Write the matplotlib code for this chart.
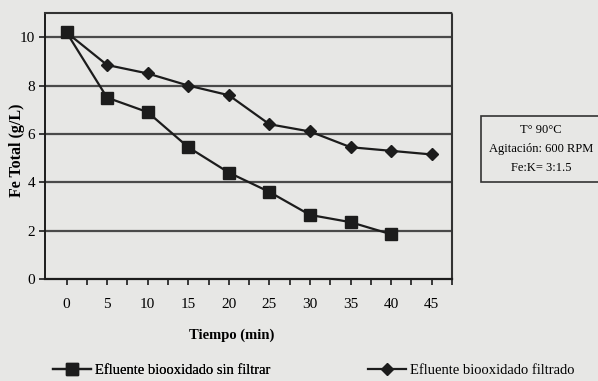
import numpy as np
import matplotlib.pyplot as plt
from matplotlib.lines import Line2D

tiempo = [0, 5, 10, 15, 20, 25, 30, 35, 40, 45]
sin_filtrar = [10.2, 7.5, 6.9, 5.45, 4.4, 3.6, 2.65, 2.35, 1.85]
filtrado = [10.2, 8.85, 8.5, 8.0, 7.6, 6.4, 6.1, 5.45, 5.3, 5.15]
yticks = [0, 2, 4, 6, 8, 10]

bg = "#e7e7e5"
ink = "#1c1c1c"
plt.rcParams['font.family'] = ['Liberation Serif', 'DejaVu Serif']

fig = plt.figure(figsize=(5.98, 3.81), dpi=100, facecolor=bg)
ax = fig.add_axes([45/598, 1 - 279/381, 407/598, 266/381], facecolor=bg)

x = np.arange(len(tiempo))
ax.plot(x[:len(sin_filtrar)], sin_filtrar, color=ink, lw=1.6, marker='s',
        ms=8.5, mfc=ink, mec=ink, zorder=3)
ax.plot(x, filtrado, color=ink, lw=1.6, marker='D', ms=6.5,
        mfc=ink, mec=ink, zorder=3)

ax.set_xlim(-0.53, 9.5)
ax.set_ylim(0, 11)
ax.set_yticks(yticks)
for yv in yticks[1:]:
    ax.axhline(yv, color="#4a4a4a", lw=1.6, zorder=1)

ax.set_xticks(x)
ax.set_xticklabels([str(t) for t in tiempo], fontsize=11)
ax.set_xticks(x + 0.5, minor=True)
ax.tick_params(axis='x', which='both', direction='out', length=4, width=1.2,
               color=ink, pad=10)
ax.tick_params(axis='y', direction='out', length=4, width=1.2, color=ink,
               labelsize=11, pad=3)

ax.spines['left'].set_linewidth(1.4)
ax.spines['bottom'].set_linewidth(1.6)
ax.spines['left'].set_color(ink)
ax.spines['bottom'].set_color(ink)
for s in ['top', 'right']:
    ax.spines[s].set_linestyle((0, (1, 1)))
    ax.spines[s].set_linewidth(1.5)
    ax.spines[s].set_color("#333333")

fig.text(17/598, 1 - 150/381, "Fe Total (g/L)", fontsize=11.5,
         fontweight='bold', rotation=90, ha='center', va='center')
fig.text(232/598, 1 - 335/381, "Tiempo (min)", fontsize=10.5,
         fontweight='bold', ha='center', va='center')

fig.text(541/598, 1 - 149/381, "T° 90°C\nAgitación: 600 RPM\nFe:K= 3:1.5",
         fontsize=9, ha='center', va='center', linespacing=1.8,
         bbox=dict(boxstyle='square,pad=0.6', fc=bg, ec="#333333", lw=1.2))

h1 = Line2D([], [], color=ink, lw=1.6, marker='s', ms=8, mfc=ink)
h2 = Line2D([], [], color=ink, lw=1.6, marker='D', ms=6, mfc=ink)
leg1 = fig.legend([h1], ["Efluente biooxidado sin filtrar"], loc='center left',
                  bbox_to_anchor=(40/598, 1 - 370/381), frameon=False,
                  fontsize=10.5, handlelength=2.6, handletextpad=0.3)
fig.add_artist(leg1)
fig.legend([h2], ["Efluente biooxidado filtrado"], loc='center left',
           bbox_to_anchor=(355/598, 1 - 370/381), frameon=False,
           fontsize=10.5, handlelength=2.6, handletextpad=0.3)

fig.savefig("out.png", dpi=100, facecolor=bg)
